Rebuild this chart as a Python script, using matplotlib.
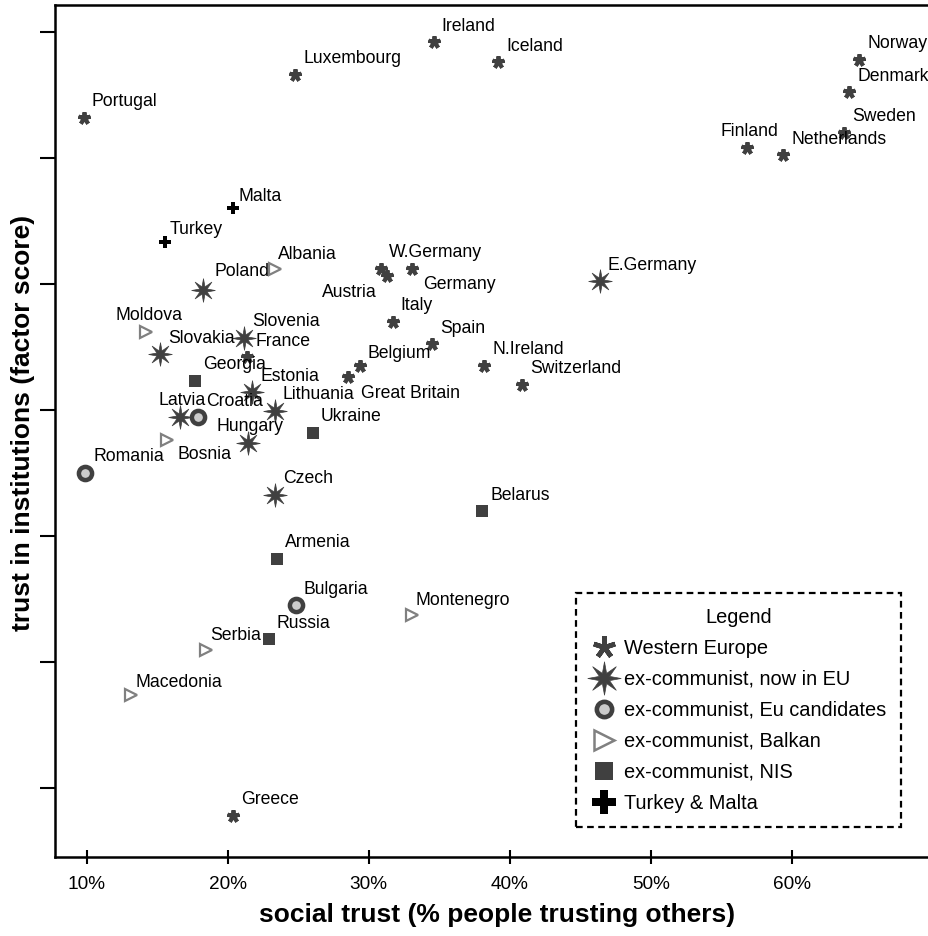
import matplotlib

matplotlib.use("Agg")
import matplotlib.pyplot as plt
from matplotlib.lines import Line2D
from matplotlib.path import Path

plt.rcParams["font.family"] = ["Liberation Sans", "DejaVu Sans"]

# --- data: social trust (%) vs trust in institutions (factor score) ---
west_names = ["Ireland", "Iceland", "Luxembourg", "Portugal", "Norway", "Denmark",
              "Sweden", "Finland", "Netherlands", "W.Germany", "Austria", "Germany",
              "Italy", "Spain", "France", "Belgium", "Great Britain", "N.Ireland",
              "Switzerland", "Greece"]
west_x = [34.6, 39.2, 24.8, 9.8, 64.8, 64.1, 63.7, 56.8, 59.4, 30.9, 31.3, 33.1,
          31.7, 34.5, 21.4, 29.4, 28.5, 38.2, 40.9, 20.4]
west_y = [1.46, 1.38, 1.33, 1.16, 1.39, 1.26, 1.10, 1.04, 1.01, 0.56, 0.53, 0.56,
          0.35, 0.26, 0.21, 0.175, 0.13, 0.175, 0.10, -1.61]

eu_names = ["E.Germany", "Poland", "Slovakia", "Slovenia", "Estonia", "Lithuania",
            "Latvia", "Hungary", "Czech"]
eu_x = [46.4, 18.25, 15.2, 21.16, 21.73, 23.35, 16.62, 21.44, 23.35]
eu_y = [0.51, 0.476, 0.222, 0.286, 0.071, -0.004, -0.028, -0.131, -0.337]

cand_names = ["Croatia", "Romania", "Bulgaria"]
cand_x = [17.89, 9.88, 24.84]
cand_y = [-0.028, -0.25, -0.774]

balkan_names = ["Albania", "Moldova", "Bosnia", "Montenegro", "Serbia", "Macedonia"]
balkan_x = [23.35, 14.21, 15.7, 33.07, 18.46, 13.14]
balkan_y = [0.56, 0.31, -0.119, -0.813, -0.952, -1.131]

nis_names = ["Georgia", "Ukraine", "Belarus", "Armenia", "Russia"]
nis_x = [17.69, 26.05, 38.04, 23.49, 22.92]
nis_y = [0.115, -0.091, -0.401, -0.591, -0.909]

tm_names = ["Malta", "Turkey"]
tm_x = [20.38, 15.55]
tm_y = [0.802, 0.667]

x_ticks = [10, 20, 30, 40, 50, 60]
y_ticks = [-1.5, -1.0, -0.5, 0.0, 0.5, 1.0, 1.5]

# label placement (offset in pixels, horizontal alignment)
label_pos = {
    "Finland": (3, 16, "center"), "Austria": (-10, -16, "right"),
    "Germany": (11, -16, "left"), "Great Britain": (13, -16, "left"),
    "Latvia": (2, 17, "center"), "Hungary": (2, 16, "center"),
    "Moldova": (3, 16, "center"), "Bosnia": (10, -15, "left"),
    "Belgium": (7, 12, "left"), "Poland": (11, 19, "left"),
    "Albania": (3, 14, "left"), "Montenegro": (4, 14, "left"),
    "Serbia": (4, 14, "left"), "Macedonia": (5, 12, "left"),
    "Malta": (5, 11, "left"), "Turkey": (5, 12, "left"),
}

DARK = "#404040"
GREY = "#808080"
star8 = Path.unit_regular_star(8, 0.33)

styles = [
    dict(marker=(5, 2, 0), color=DARK, ms=9, mew=2.8, mec=DARK),
    dict(marker=star8, color=DARK, ms=17, mew=0.5, mec=DARK),
    dict(marker="o", color="#cccccc", ms=9.5, mew=3.2, mec=DARK),
    dict(marker=">", color="none", ms=8.5, mew=1.6, mec=GREY),
    dict(marker="s", color=DARK, ms=8, mew=0, mec=DARK),
    dict(marker="P", color="black", ms=9, mew=0, mec="black"),
]
legend_sizes = [(16, 3.4), (24, 0.5), (11, 3.3), (14, 1.8), (13.5, 0), (17, 0)]
group_labels = ["Western Europe", "ex-communist, now in EU", "ex-communist, Eu candidates",
                "ex-communist, Balkan", "ex-communist, NIS", "Turkey & Malta"]
groups = [
    (west_names, west_x, west_y),
    (eu_names, eu_x, eu_y),
    (cand_names, cand_x, cand_y),
    (balkan_names, balkan_x, balkan_y),
    (nis_names, nis_x, nis_y),
    (tm_names, tm_x, tm_y),
]

fig = plt.figure(figsize=(9.29, 9.36), dpi=100)
ax = fig.add_axes([55 / 929, 79 / 936, 1 - 55 / 929 + 0.01, 852 / 936])

for (names, xs, ys), st in zip(groups, styles):
    ax.plot(xs, ys, linestyle="none", marker=st["marker"], markersize=st["ms"],
            markerfacecolor=st["color"], markeredgecolor=st["mec"],
            markeredgewidth=st["mew"], zorder=3)
    for name, x, y in zip(names, xs, ys):
        dx, dy, ha = label_pos.get(name, (8, 16, "left"))
        ax.annotate(name, (x, y), xytext=(dx, dy), textcoords="offset pixels",
                    ha=ha, va="center", fontsize=12.7, zorder=4)

ax.set_xlim(7.75, 70.4)
ax.set_ylim(-1.774, 1.607)
ax.set_xticks(x_ticks)
ax.set_xticklabels([f"{t}%" for t in x_ticks])
ax.set_yticks(y_ticks)
ax.set_yticklabels([])
ax.tick_params(axis="x", direction="inout", length=10, width=1.5, pad=9, labelsize=13.7)
ax.tick_params(axis="y", direction="out", length=11, width=1.5)
for side in ["left", "top", "bottom"]:
    ax.spines[side].set_linewidth(1.8)
ax.spines["right"].set_visible(False)

ax.set_xlabel("social trust (% people trusting others)", fontsize=19, fontweight="bold")
ax.xaxis.set_label_coords(0.5, -0.054)
ax.set_ylabel("trust in institutions (factor score)", fontsize=19, fontweight="bold")
ax.yaxis.set_label_coords(-0.0227, 0.51)

handles = []
for st, (ms, mew), lab in zip(styles, legend_sizes, group_labels):
    handles.append(Line2D([], [], linestyle="none", marker=st["marker"], markersize=ms,
                          markerfacecolor=st["color"], markeredgecolor=st["mec"],
                          markeredgewidth=mew, label=lab))
leg = ax.legend(handles=handles, title="Legend", loc="lower right",
                bbox_to_anchor=(901 / 929, 109 / 936), bbox_transform=fig.transFigure,
                borderaxespad=0, fontsize=14.4, title_fontsize=14.4, fancybox=False,
                handlelength=1.4, handletextpad=0.3, borderpad=0.72, labelspacing=0.6,
                framealpha=1)
leg.get_frame().set_linestyle((0, (3, 2)))
leg.get_frame().set_linewidth(1.6)
leg.get_frame().set_edgecolor("black")

fig.savefig("out.png", dpi=100)
